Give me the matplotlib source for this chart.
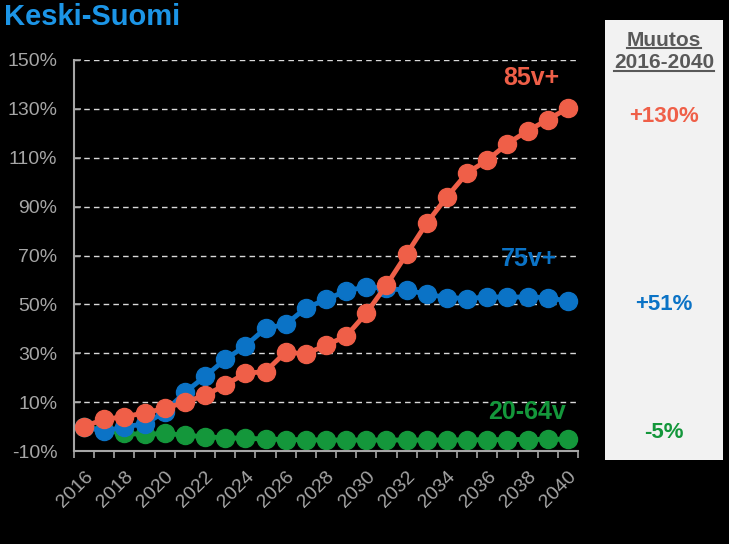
import matplotlib
matplotlib.use("Agg")
import matplotlib.pyplot as plt
import numpy as np

years = list(range(2016, 2041))
age_85 = [0, 3, 4, 5.6, 7.4, 10, 12.8, 17, 21.8, 22.5, 30.5, 29.7, 33.3, 37, 46.4,
          57.9, 70.6, 83.3, 94, 103.8, 109, 115.8, 121, 125.6, 130.3]
age_75 = [0, -2, 0, 1, 6, 14, 20.5, 27.5, 33, 40.2, 41.8, 48.5, 52, 55.5, 57.2,
          56.5, 55.8, 54.2, 52.8, 52.4, 53, 53, 53, 52.8, 51.3]
age_20_64 = [0, -1.5, -2.8, -3.2, -2.8, -3.5, -4.2, -4.6, -4.8, -5.1, -5.3, -5.4,
             -5.5, -5.5, -5.5, -5.5, -5.5, -5.5, -5.5, -5.4, -5.4, -5.3, -5.3, -5.2, -5.2]
series_names = ["85v+", "75v+", "20-64v"]
change_labels = ["+130%", "+51%", "-5%"]
colors = ["#EF5F48", "#0B73C6", "#14973B"]

red, blue, green = colors
gray = "#A6A6A6"
FONT = "Liberation Sans"

fig = plt.figure(figsize=(7.29, 5.44), dpi=100, facecolor="black")
ax = fig.add_axes([74 / 729, 93 / 544, 504 / 729, 391 / 544])
ax.set_facecolor("black")

x = np.arange(len(years))
for vals, c in zip([age_20_64, age_75, age_85], [green, blue, red]):
    ax.plot(x, vals, color=c, lw=3.5, marker="o", ms=13, solid_capstyle="round")

ax.set_xlim(-0.5, len(years) - 0.5)
ax.set_ylim(-10, 150)
yt = list(range(-10, 151, 20))
ax.set_yticks(yt)
ax.set_yticklabels([f"{v}%" for v in yt], color=gray, fontsize=14, family=FONT)
for v in yt[1:]:
    ax.axhline(v, color="#D9D9D9", lw=1, ls=(0, (4, 3)), zorder=0)

ax.set_xticks(x[::2])
ax.set_xticklabels([str(y) for y in years[::2]], rotation=45, ha="right",
                   rotation_mode="anchor", color=gray, fontsize=14, family=FONT)
ax.set_xticks(np.arange(-0.5, len(years)), minor=True)
ax.tick_params(axis="x", which="major", length=0, pad=12)
ax.tick_params(axis="x", which="minor", length=5, color=gray, width=1.2)
ax.tick_params(axis="y", length=5, color=gray, width=1.2, direction="in", pad=12)

for s in ["top", "right"]:
    ax.spines[s].set_visible(False)
for s in ["left", "bottom"]:
    ax.spines[s].set_color(gray)
    ax.spines[s].set_linewidth(1.5)

# series labels (right-aligned near the line ends)
label_x = [23.6, 23.45, 23.9]
label_y = [142.5, 68.5, 6]
for name, c, xx, yy in zip(series_names, [red, blue, green], label_x, label_y):
    ax.text(xx, yy, name, color=c, fontsize=18, fontweight="bold",
            ha="right", va="center", family=FONT)

fig.text(4 / 729, 1 - 17 / 544, "Keski-Suomi", color="#1C95E6", fontsize=21,
         fontweight="bold", ha="left", va="center", family=FONT)

# right panel
panel = fig.add_axes([605 / 729, (544 - 460) / 544, 118 / 729, 440 / 544])
panel.set_facecolor("#F2F2F2")
panel.set_xticks([])
panel.set_yticks([])
for s in panel.spines.values():
    s.set_visible(False)
panel.set_xlim(0, 1)
panel.set_ylim(460, 20)

hdr_color = "#595959"
t1 = panel.text(0.5, 40, "Muutos", color=hdr_color, fontsize=15, fontweight="bold",
                ha="center", va="center", family=FONT)
t2 = panel.text(0.5, 63, "2016-2040", color=hdr_color, fontsize=15, fontweight="bold",
                ha="center", va="center", family=FONT)
fig.canvas.draw()
renderer = fig.canvas.get_renderer()
inv = fig.transFigure.inverted()
for t in (t1, t2):
    bb = t.get_window_extent(renderer)
    (x0, y0), (x1, _) = inv.transform([[bb.x0, bb.y0], [bb.x1, bb.y1]])
    fig.add_artist(plt.Line2D([x0, x1], [y0 + 1.5 / 544, y0 + 1.5 / 544],
                              color=hdr_color, lw=1.5, transform=fig.transFigure))

for lbl, c, yy in zip(change_labels, [red, blue, green], [116, 304, 433]):
    panel.text(0.5, yy, lbl, color=c, fontsize=16, fontweight="bold",
               ha="center", va="center", family=FONT)

fig.savefig("out.png", dpi=100, facecolor="black")
